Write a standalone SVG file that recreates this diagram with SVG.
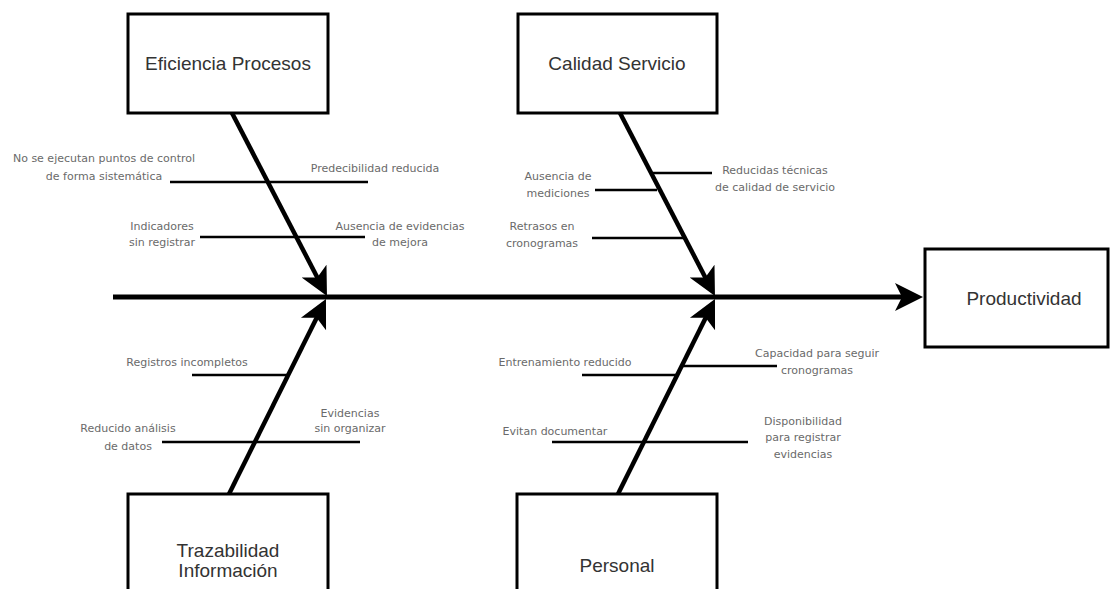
<svg xmlns="http://www.w3.org/2000/svg" width="1111" height="589" viewBox="0 0 1111 589">
<style>
.box{fill:#fff;stroke:#000;stroke-width:3}
.bt{font-family:"Liberation Sans",Arial,sans-serif;font-size:19px;fill:#333;text-anchor:middle}
.lt{font-family:"DejaVu Sans","Liberation Sans",sans-serif;font-size:11px;fill:#6a6a6a;text-anchor:middle}
.spine{stroke:#000;stroke-width:5;fill:none}
.bone{stroke:#000;stroke-width:4.5;fill:none}
.rib{stroke:#000;stroke-width:2.5;fill:none}
</style>
<defs>
<marker id="ah" markerUnits="userSpaceOnUse" markerWidth="30" markerHeight="30" viewBox="0 0 30 30" refX="22" refY="15" orient="auto">
<path d="M0,1 L28,15 L0,29 L7,15 Z" fill="#000"/>
</marker>
</defs>
<rect width="1111" height="589" fill="#fff"/>
<g id="connectors">
<line class="spine" x1="113" y1="297" x2="917" y2="297" marker-end="url(#ah)"/>
<line class="bone" x1="232" y1="113" x2="324.2" y2="290.7" marker-end="url(#ah)"/>
<line class="bone" x1="620" y1="113" x2="712.2" y2="290.7" marker-end="url(#ah)"/>
<line class="bone" x1="229" y1="494" x2="323.3" y2="304.4" marker-end="url(#ah)"/>
<line class="bone" x1="618" y1="494" x2="712.3" y2="304.4" marker-end="url(#ah)"/>
<line class="rib" x1="170" y1="182" x2="368" y2="182"/>
<line class="rib" x1="200" y1="237" x2="365" y2="237"/>
<line class="rib" x1="653" y1="173" x2="712" y2="173"/>
<line class="rib" x1="595" y1="190" x2="657" y2="190"/>
<line class="rib" x1="592" y1="238" x2="684" y2="238"/>
<line class="rib" x1="192" y1="375" x2="288" y2="375"/>
<line class="rib" x1="162" y1="442" x2="360" y2="442"/>
<line class="rib" x1="582" y1="375" x2="677" y2="375"/>
<line class="rib" x1="683" y1="366" x2="777" y2="366"/>
<line class="rib" x1="552" y1="442" x2="748" y2="442"/>
</g>
<g id="labels">
<text class="lt" x="104" y="162">No se ejecutan puntos de control</text>
<text class="lt" x="104" y="180">de forma sistemática</text>
<text class="lt" x="375" y="172">Predecibilidad reducida</text>
<text class="lt" x="162" y="230">Indicadores</text>
<text class="lt" x="162" y="246">sin registrar</text>
<text class="lt" x="400" y="230">Ausencia de evidencias</text>
<text class="lt" x="400" y="246">de mejora</text>
<text class="lt" x="558" y="180">Ausencia de</text>
<text class="lt" x="558" y="197">mediciones</text>
<text class="lt" x="775" y="174">Reducidas técnicas</text>
<text class="lt" x="775" y="191">de calidad de servicio</text>
<text class="lt" x="542" y="230">Retrasos en</text>
<text class="lt" x="542" y="247">cronogramas</text>
<text class="lt" x="187" y="366">Registros incompletos</text>
<text class="lt" x="128" y="432">Reducido análisis</text>
<text class="lt" x="128" y="450">de datos</text>
<text class="lt" x="350" y="417">Evidencias</text>
<text class="lt" x="350" y="432">sin organizar</text>
<text class="lt" x="565" y="366">Entrenamiento reducido</text>
<text class="lt" x="817" y="357">Capacidad para seguir</text>
<text class="lt" x="817" y="374">cronogramas</text>
<text class="lt" x="555" y="435">Evitan documentar</text>
<text class="lt" x="803" y="425">Disponibilidad</text>
<text class="lt" x="803" y="441">para registrar</text>
<text class="lt" x="803" y="458">evidencias</text>
</g>
<g id="node-eficiencia">
<rect class="box" x="128" y="14" width="200" height="99"/>
<text class="bt" x="228" y="70">Eficiencia Procesos</text>
</g>
<g id="node-calidad">
<rect class="box" x="518" y="14" width="199" height="99"/>
<text class="bt" x="617" y="70">Calidad Servicio</text>
</g>
<g id="node-productividad">
<rect class="box" x="925" y="249" width="183" height="98"/>
<text class="bt" x="1024" y="305">Productividad</text>
</g>
<g id="node-trazabilidad">
<rect class="box" x="128" y="494" width="200" height="100"/>
<text class="bt" x="228" y="557">Trazabilidad</text>
<text class="bt" x="228" y="577">Información</text>
</g>
<g id="node-personal">
<rect class="box" x="517" y="494" width="200" height="100"/>
<text class="bt" x="617" y="572">Personal</text>
</g>
</svg>
